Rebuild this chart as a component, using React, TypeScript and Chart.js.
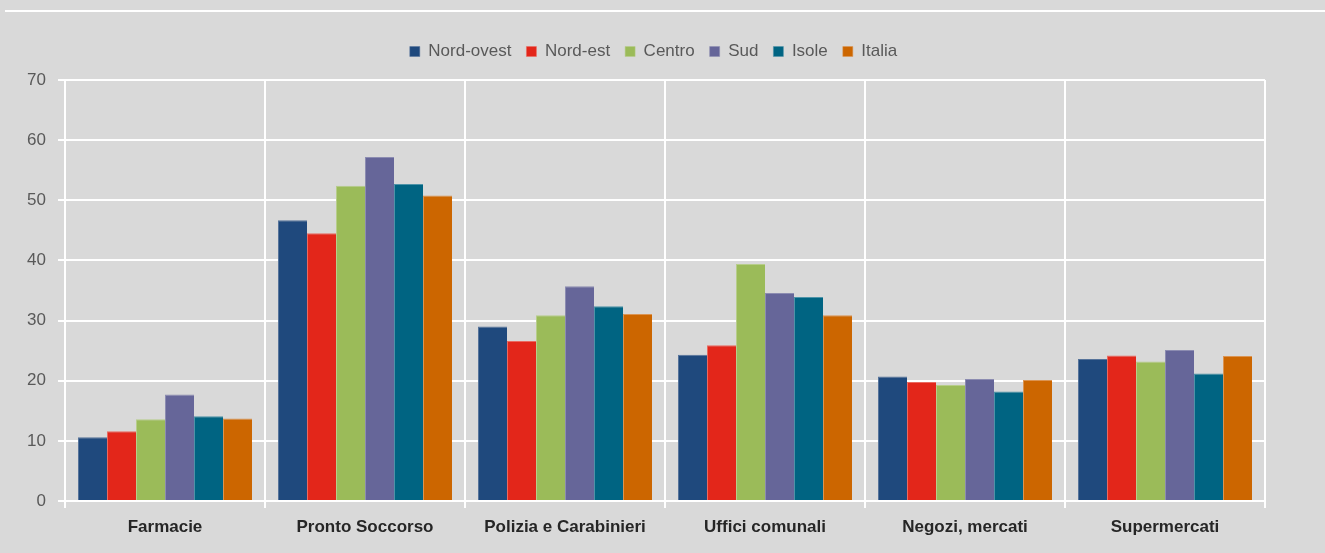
import React, { useEffect, useRef } from "react";
import { Chart, registerables } from "chart.js";

Chart.register(...registerables);

const categories = ["Farmacie", "Pronto Soccorso", "Polizia e Carabinieri", "Uffici comunali", "Negozi, mercati", "Supermercati"];
const seriesNames = ["Nord-ovest", "Nord-est", "Centro", "Sud", "Isole", "Italia"];
const nordOvest = [10.6, 46.7, 29.0, 24.3, 20.7, 23.6];
const nordEst = [11.6, 44.5, 26.6, 25.9, 19.8, 24.2];
const centro = [13.6, 52.4, 30.9, 39.4, 19.3, 23.2];
const sud = [17.7, 57.2, 35.7, 34.6, 20.3, 25.1];
const isole = [14.1, 52.7, 32.4, 33.9, 18.2, 21.2];
const italia = [13.7, 50.8, 31.1, 30.9, 20.1, 24.1];
const seriesValues = [nordOvest, nordEst, centro, sud, isole, italia];
const colors = ["#1f497d", "#e3261a", "#9bbb59", "#666699", "#006482", "#cc6600"];
const edgeColors = ["#56739a", "#ea6a60", "#b7cd8a", "#8c8cb1", "#4d93a8", "#db9452"];

const FONT = "'Liberation Sans', Arial, sans-serif";

const topLinePlugin = {
  id: "topLine",
  beforeDraw(chart: any) {
    const ctx = chart.ctx;
    ctx.save();
    ctx.strokeStyle = "#ffffff";
    ctx.lineWidth = 2;
    ctx.beginPath();
    ctx.moveTo(5, 11);
    ctx.lineTo(chart.width, 11);
    ctx.stroke();
    ctx.restore();
  },
};

const legendMarginPlugin = {
  id: "legendMargin",
  beforeInit(chart: any) {
    const legend = chart.legend;
    if (!legend) return;
    const origFit = legend.fit;
    legend.fit = function () {
      origFit.bind(legend)();
      this.height += 10;
    };
  },
  afterLayout(chart: any) {
    const legend = chart.legend;
    if (!legend) return;
    legend.left += 21;
    legend.right += 21;
  },
};

export default function App() {
  const ref = useRef<HTMLCanvasElement | null>(null);
  useEffect(() => {
    if (!ref.current) return;
    const chart = new Chart(ref.current, {
      type: "bar",
      data: {
        labels: categories,
        datasets: seriesNames.map((name, i) => ({
          label: name,
          data: seriesValues[i],
          backgroundColor: colors[i],
          borderColor: edgeColors[i],
          borderWidth: { top: 1, left: 1, right: 0, bottom: 0 },
          borderSkipped: "bottom",
          categoryPercentage: 0.87,
          barPercentage: 1.0,
        })),
      },
      options: {
        animation: false,
        responsive: false,
        maintainAspectRatio: false,
        layout: { padding: { top: 28, left: 0, right: 60, bottom: 0 } },
        plugins: {
          legend: {
            position: "top",
            labels: {
              boxWidth: 10,
              boxHeight: 10,
              padding: 15,
              color: "#595959",
              font: { family: FONT, size: 17 },
            },
          },
          tooltip: { enabled: false },
        },
        scales: {
          x: {
            grid: { color: "#ffffff", lineWidth: 2, tickLength: 7, offset: true },
            border: { color: "#ffffff", width: 2 },
            ticks: {
              color: "#262626",
              padding: 9,
              maxRotation: 0,
              autoSkip: false,
              font: { family: FONT, size: 17, weight: "bold" },
            },
            afterFit(scale: any) {
              scale.height = 52;
            },
          },
          y: {
            min: 0,
            max: 70,
            ticks: {
              stepSize: 10,
              color: "#595959",
              padding: 12,
              font: { family: FONT, size: 17 },
            },
            grid: { color: "#ffffff", lineWidth: 2, tickLength: 7 },
            border: { color: "#ffffff", width: 2 },
            afterFit(scale: any) {
              scale.width = 65;
            },
          },
        },
      },
      plugins: [topLinePlugin, legendMarginPlugin],
    });
    return () => chart.destroy();
  }, []);
  return (
    <div style={{ position: "fixed", left: 0, top: 0, width: 1325, height: 553, background: "#d9d9d9" }}>
      <canvas ref={ref} width={1325} height={553} style={{ display: "block" }} />
    </div>
  );
}
